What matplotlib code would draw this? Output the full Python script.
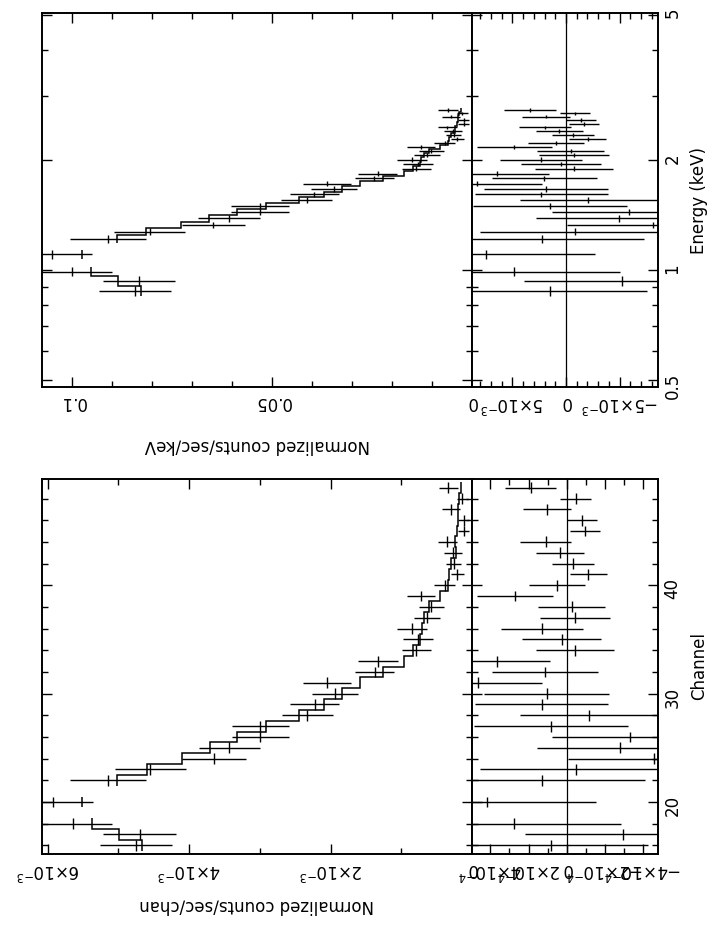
import numpy as np
import matplotlib.pyplot as plt
from matplotlib.ticker import MultipleLocator, FixedLocator, NullFormatter

plt.rcParams['font.family'] = 'DejaVu Sans'
plt.rcParams['mathtext.fontset'] = 'dejavusans'

# noticed PHA channels (19 and 21 are ignored)
channel = np.array([16, 17, 18, 20, 22, 23, 24, 25, 26, 27, 28, 29, 30, 31, 32, 33,
                    34, 35, 36, 37, 38, 39, 40, 41, 42, 43, 44, 45, 46, 47, 48, 49])
# normalized counts/sec/chan (x 1e-3)
rate = np.array([4.750, 4.701, 5.646, 5.929, 5.142, 4.548, 3.650, 3.430, 2.991, 2.991,
                 2.330, 2.226, 1.943, 2.047, 1.377, 1.329, 0.787, 0.763, 0.844, 0.631,
                 0.575, 0.726, 0.386, 0.207, 0.259, 0.268, 0.348, 0.117, 0.117, 0.301,
                 0.136, 0.338]) * 1e-3
# 1 sigma errors (x 1e-4)
rate_err = np.array([5.09, 5.12, 5.59, 5.71, 5.38, 5.03, 4.49, 4.36, 4.07, 4.05,
                     3.61, 3.49, 3.26, 3.39, 2.77, 2.76, 2.05, 2.08, 2.14, 1.83,
                     1.76, 1.98, 1.47, 0.96, 1.10, 1.24, 1.35, 0.79, 0.79, 1.25,
                     0.80, 1.35]) * 1e-4
# folded model (x 1e-3)
model = np.array([4.668, 4.994, 5.372, 5.510, 5.014, 4.597, 4.106, 3.709, 3.322, 2.909,
                  2.447, 2.095, 1.838, 1.581, 1.263, 0.966, 0.830, 0.737, 0.713, 0.674,
                  0.601, 0.455, 0.334, 0.320, 0.294, 0.233, 0.238, 0.212, 0.196, 0.196,
                  0.183, 0.149]) * 1e-3

# gain of the channel grid
kev_per_chan = 0.0564
e_chan16 = 0.877

resid = rate - model


def to_kev(c):
    return e_chan16 + kev_per_chan * (c - 16)


W, H = 710, 925
fig = plt.figure(figsize=(W / 100, H / 100), dpi=100)


def box(x0, x1, y0, y1):
    return [x0 / W, 1 - y1 / H, (x1 - x0) / W, (y1 - y0) / H]


def frame(ax):
    for s in ax.spines.values():
        s.set_linewidth(1.4)
    ax.tick_params(which='both', direction='in', top=True, bottom=True,
                   left=True, right=True, labelsize=12, width=1.0)
    ax.tick_params(which='major', length=7, pad=4)
    ax.tick_params(which='minor', length=4.5)
    ax.tick_params(axis='y', labelleft=False, labelright=False)


def panel(ax, ax_r, y, half, edges_of, scale):
    ax.errorbar(rate * scale, y, xerr=rate_err * scale, yerr=half, fmt='none',
                ecolor='k', elinewidth=1.0, capsize=0)
    runs = np.split(np.arange(len(channel)), np.where(np.diff(channel) > 1)[0] + 1)
    for idx in runs:
        c = channel[idx]
        edges = edges_of(np.append(c - 0.5, c[-1] + 0.5))
        ax.stairs(model[idx] * scale, edges, orientation='horizontal',
                  baseline=None, color='k', lw=1.1)
    ax_r.errorbar(resid * scale, y, xerr=rate_err * scale, yerr=half, fmt='none',
                  ecolor='k', elinewidth=1.0, capsize=0)
    ax_r.axvline(0, color='k', lw=0.9)


# ---------------- energy plot ----------------
ax1 = fig.add_axes(box(42, 472, 13, 387))
ax1r = fig.add_axes(box(472, 658, 13, 387), sharey=ax1)
energy = to_kev(channel)
panel(ax1, ax1r, energy, kev_per_chan / 2, to_kev, 1 / kev_per_chan)
ax1.set_yscale('log')
ax1.set_ylim(0.478, 5.05)
ax1.set_xlim(0.1076, 0)
ax1r.set_xlim(8.76e-3, -8.57e-3)
for a in (ax1, ax1r):
    frame(a)
    a.yaxis.set_major_locator(FixedLocator([0.5, 1, 2, 5]))
    a.yaxis.set_minor_locator(FixedLocator([0.6, 0.7, 0.8, 0.9, 3, 4]))
    a.yaxis.set_minor_formatter(NullFormatter())
ax1.set_xticks([0, 0.05, 0.1], ['0', '0.05', '0.1'], rotation=180)
ax1.xaxis.set_minor_locator(MultipleLocator(0.01))
ax1r.set_xticks([-5e-3, 0, 5e-3], [r'$-5{\times}10^{-3}$', '0', r'$5{\times}10^{-3}$'],
                rotation=180)
ax1r.xaxis.set_minor_locator(MultipleLocator(1e-3))
ax1r.set_yticks([0.5, 1, 2, 5], ['0.5', '1', '2', '5'])
ax1r.tick_params(axis='y', labelright=True, labelrotation=90)
ax1r.yaxis.set_label_position('right')
ax1r.set_ylabel('Energy (keV)', fontsize=12, rotation=90, labelpad=6)
ax1.set_xlabel('Normalized counts/sec/keV', fontsize=12, rotation=180, labelpad=19)

# ---------------- channel plot ----------------
ax2 = fig.add_axes(box(42, 472, 479, 854))
ax2r = fig.add_axes(box(472, 658, 479, 854), sharey=ax2)
panel(ax2, ax2r, channel, 0.5, lambda c: c, 1.0)
ax2.set_ylim(15.2, 49.8)
ax2.set_xlim(6.08e-3, 0)
ax2r.set_xlim(4.96e-4, -4.78e-4)
for a in (ax2, ax2r):
    frame(a)
    a.yaxis.set_major_locator(FixedLocator([20, 30, 40]))
    a.yaxis.set_minor_locator(MultipleLocator(2))
ax2.set_xticks([0, 2e-3, 4e-3, 6e-3],
               ['0', r'$2{\times}10^{-3}$', r'$4{\times}10^{-3}$', r'$6{\times}10^{-3}$'],
               rotation=180)
ax2.xaxis.set_minor_locator(MultipleLocator(1e-3))
ax2r.set_xticks([-4e-4, -2e-4, 0, 2e-4, 4e-4],
                [r'$-4{\times}10^{-4}$', r'$-2{\times}10^{-4}$', '0',
                 r'$2{\times}10^{-4}$', r'$4{\times}10^{-4}$'], rotation=180)
ax2r.xaxis.set_minor_locator(MultipleLocator(1e-4))
ax2r.tick_params(axis='y', labelright=True, labelrotation=90)
ax2r.yaxis.set_label_position('right')
ax2r.set_ylabel('Channel', fontsize=12, rotation=90, labelpad=6)
ax2.set_xlabel('Normalized counts/sec/chan', fontsize=12, rotation=180, labelpad=12)

fig.savefig('out.png', dpi=100)
